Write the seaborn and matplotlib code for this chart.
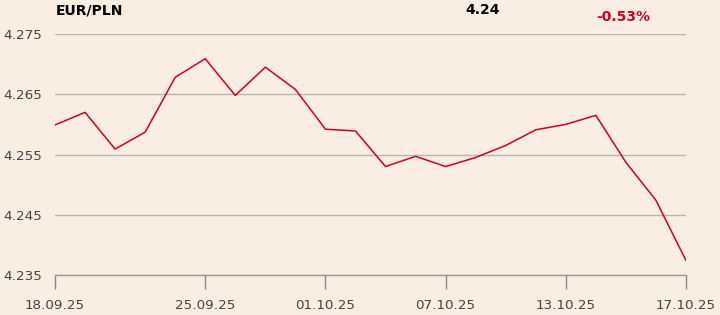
import matplotlib
matplotlib.use("Agg")
import matplotlib.pyplot as plt
import seaborn as sns
import pandas as pd

dates = ["18.09.25", "19.09.25", "22.09.25", "23.09.25", "24.09.25", "25.09.25",
         "26.09.25", "29.09.25", "30.09.25", "01.10.25", "02.10.25", "03.10.25",
         "06.10.25", "07.10.25", "08.10.25", "09.10.25", "10.10.25", "13.10.25",
         "14.10.25", "15.10.25", "16.10.25", "17.10.25"]
rates = [4.2599, 4.2620, 4.2559, 4.2587, 4.2678, 4.2709, 4.2648, 4.2695, 4.2658,
         4.2592, 4.2589, 4.2530, 4.2547, 4.2530, 4.2545, 4.2565, 4.2591, 4.2600,
         4.2615, 4.2537, 4.2474, 4.2374]
tick_labels = ["18.09.25", "25.09.25", "01.10.25", "07.10.25", "13.10.25", "17.10.25"]
y_ticks = [4.235, 4.245, 4.255, 4.265, 4.275]
title = "EUR/PLN"
last_value = "4.24"
change = "-0.53%"

bg = "#FAEDE1"
sns.set_theme(style="white")
plt.rcParams['font.family'] = ['DejaVu Sans']

df = pd.DataFrame({"idx": range(len(dates)), "rate": rates, "date": dates})

fig = plt.figure(figsize=(7.2, 3.15), dpi=100, facecolor=bg)
ax = fig.add_axes([55/720, 1 - 275/315, (686 - 55)/720, (275 - 34)/315])
ax.set_facecolor(bg)

sns.lineplot(data=df, x="idx", y="rate", ax=ax, color="#D0021B", linewidth=1.1)

ax.set_xlim(0, len(dates) - 1)
ax.set_ylim(4.235, 4.275)
ax.set_yticks(y_ticks)
ax.set_yticklabels([f"{v:.3f}" for v in y_ticks])
ax.set_xticks([dates.index(t) for t in tick_labels])
ax.set_xticklabels(tick_labels)
ax.set_xlabel("")
ax.set_ylabel("")

ax.grid(axis="y", color="#BBB5AF", linewidth=1)
ax.grid(axis="x", visible=False)
for s in ["top", "right", "left"]:
    ax.spines[s].set_visible(False)
ax.spines["bottom"].set_color("#999999")
ax.spines["bottom"].set_linewidth(1)
ax.set_axisbelow(True)

ax.tick_params(axis="x", direction="out", length=10, width=1, color="#888888",
               labelsize=9.7, labelcolor="#444444", pad=7, bottom=True)
ax.tick_params(axis="y", length=0, labelsize=9.7, labelcolor="#444444", pad=9.4)

fig.text(56/720, 1 - 11/315, title, fontsize=10, fontweight="bold",
         color="#000000", ha="left", va="center")
fig.text(483/720, 1 - 10/315, last_value, fontsize=10, fontweight="bold",
         color="#000000", ha="center", va="center")
fig.text(623/720, 1 - 17/315, change, fontsize=10, fontweight="bold",
         color="#D0021B", ha="center", va="center")

fig.savefig("out.png", dpi=100, facecolor=bg)
